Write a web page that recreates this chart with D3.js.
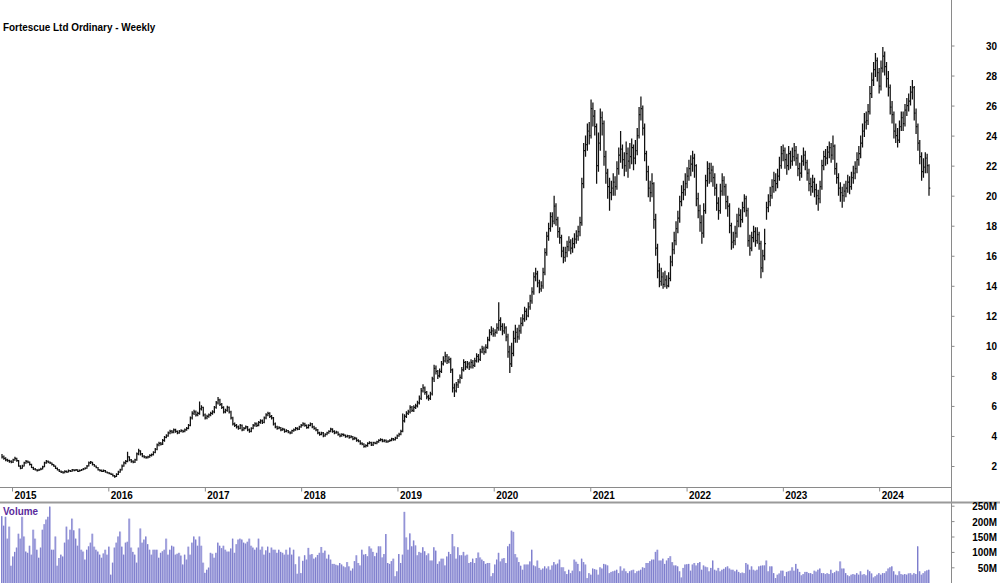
<!DOCTYPE html>
<html><head><meta charset="utf-8">
<script src="https://cdn.jsdelivr.net/npm/d3@7"></script>
<style>
body{margin:0;background:#fff}
svg{display:block}
text{font-family:"Liberation Sans",Arial,sans-serif;font-weight:bold;font-size:11px;fill:#000}
</style>
</head><body>
<svg id="c" width="1000" height="583"></svg>
<script>
const title = "Fortescue Ltd Ordinary - Weekly";
const volumeLabel = "Volume";
const firstWeek = "2014-11-24";
const yearTicks = [2015,2016,2017,2018,2019,2020,2021,2022,2023,2024];
const priceTicks = [2,4,6,8,10,12,14,16,18,20,22,24,26,28,30];
const volumeTicks = [50,100,150,200,250];

const closes = [
2.6,2.5,2.4,2.35,2.3,2.25,2.4,2.5,2.35,2.0,
1.85,2.0,2.2,2.3,2.25,2.1,1.9,1.8,1.75,1.7,
1.75,1.8,1.95,2.2,2.3,2.25,2.2,2.1,2.0,1.85,
1.75,1.65,1.6,1.55,1.65,1.6,1.7,1.65,1.75,1.7,
1.75,1.65,1.7,1.75,1.8,1.85,2.0,2.2,2.25,2.1,
2.0,1.9,1.75,1.7,1.65,1.7,1.6,1.55,1.5,1.45,
1.35,1.3,1.45,1.6,1.75,2.0,2.2,2.3,2.6,2.4,
2.3,2.25,2.4,2.8,3.0,2.8,2.65,2.6,2.55,2.6,
2.7,2.75,2.9,3.1,3.4,3.5,3.45,3.7,3.9,4.0,
4.2,4.3,4.25,4.4,4.3,4.2,4.3,4.35,4.3,4.4,
4.5,4.7,5.2,5.5,5.6,5.4,5.5,5.8,5.9,5.4,
5.2,5.3,5.4,5.5,5.6,5.9,6.2,6.4,6.1,5.9,
5.6,5.7,5.9,5.6,5.2,4.8,4.7,4.6,4.5,4.7,
4.4,4.5,4.6,4.4,4.3,4.5,4.7,4.8,4.7,4.9,
5.0,4.9,5.2,5.4,5.5,5.3,5.2,4.8,4.6,4.5,
4.55,4.4,4.45,4.3,4.35,4.25,4.2,4.35,4.4,4.5,
4.45,4.6,4.7,4.8,4.7,4.55,4.7,4.8,4.6,4.5,
4.4,4.2,4.1,4.2,4.0,4.1,4.2,4.3,4.45,4.3,
4.2,4.25,4.1,4.0,4.1,4.05,3.95,4.0,3.9,3.95,
3.8,3.85,3.7,3.65,3.5,3.45,3.3,3.35,3.5,3.55,
3.4,3.55,3.5,3.6,3.7,3.75,3.65,3.7,3.6,3.65,
3.7,3.8,3.75,3.85,4.0,4.1,4.3,5.0,5.3,5.5,
5.6,5.9,5.7,5.9,6.0,6.2,6.5,7.0,7.2,6.9,
6.6,6.5,6.8,7.8,8.5,8.3,8.0,8.3,8.8,9.0,
9.3,9.0,9.1,8.4,7.2,7.0,7.4,7.6,7.9,8.4,
8.9,8.6,8.8,8.6,8.9,8.7,9.0,9.3,9.1,9.6,
9.8,9.6,9.9,10.4,10.9,11.0,10.8,10.9,11.2,11.7,
11.3,11.0,11.2,10.6,9.6,8.8,9.5,10.5,10.9,10.6,
11.0,11.5,11.8,12.3,12.0,12.6,13.0,13.6,14.6,14.8,
14.2,13.8,14.0,14.9,16.2,17.3,17.8,18.6,18.3,19.3,
18.4,17.6,17.2,16.3,15.9,16.2,16.6,16.9,16.5,16.8,
17.1,17.3,17.6,18.2,20.8,23.0,23.4,24.3,24.0,25.8,
25.3,24.6,22.0,23.5,25.2,24.8,22.6,21.5,20.6,20.2,
20.5,20.9,20.6,21.8,22.7,23.1,22.4,22.0,22.8,22.3,
22.6,23.2,22.5,23.0,24.0,25.4,25.8,24.5,22.8,21.6,
20.5,20.2,20.8,18.4,16.5,15.0,14.3,14.6,14.1,14.4,
14.0,14.5,15.6,16.4,17.0,17.8,18.5,19.6,20.2,20.4,
20.8,21.3,21.8,22.1,22.5,22.0,19.8,19.0,18.2,17.5,
19.0,21.0,21.8,21.5,21.7,21.2,20.5,19.5,19.0,20.3,
21.0,20.6,19.6,19.3,18.0,16.9,17.0,17.5,18.3,18.7,
18.4,19.2,19.8,19.0,17.0,16.5,17.2,17.6,17.0,17.4,
16.8,15.2,16.0,16.8,19.2,19.6,20.0,20.6,21.0,20.8,
21.3,22.0,22.8,23.0,22.4,22.0,22.8,22.3,22.6,23.0,
22.5,21.8,21.5,22.3,22.7,22.2,21.5,20.8,20.6,20.9,
20.4,20.0,19.8,20.6,22.0,22.6,22.5,22.9,23.2,22.7,
23.3,21.8,21.2,20.5,20.2,20.0,20.3,20.5,20.9,20.6,
21.2,21.5,21.8,22.4,22.8,23.5,24.3,24.9,25.0,25.6,
26.8,27.7,28.4,29.0,28.2,27.3,28.5,29.3,28.6,27.8,
27.2,25.9,25.4,24.3,24.0,23.7,24.6,25.2,24.8,25.7,
26.0,26.3,26.9,27.2,25.5,24.6,23.5,22.6,21.6,21.9,
22.5,22.0,20.5];

const highs = [
2.8,2.7,2.58,2.48,2.42,2.38,2.48,2.62,2.55,2.4,
2.05,2.08,2.28,2.4,2.36,2.3,2.15,1.95,1.86,1.8,
1.82,1.88,2.02,2.28,2.4,2.36,2.3,2.24,2.14,2.04,
1.9,1.8,1.7,1.66,1.72,1.7,1.76,1.74,1.8,1.8,
1.8,1.78,1.76,1.8,1.86,1.92,2.06,2.3,2.34,2.28,
2.14,2.04,1.94,1.8,1.76,1.76,1.74,1.64,1.6,1.55,
1.5,1.4,1.52,1.68,1.82,2.1,2.3,2.4,2.95,2.65,
2.46,2.38,2.48,2.9,3.15,3.05,2.86,2.72,2.66,2.68,
2.78,2.84,2.98,3.2,3.5,3.62,3.6,3.8,4.0,4.12,
4.3,4.42,4.4,4.5,4.48,4.36,4.4,4.45,4.42,4.5,
4.6,4.8,5.3,5.65,5.75,5.7,5.62,6.3,6.05,5.95,
5.5,5.42,5.5,5.62,5.72,6.0,6.32,6.6,6.48,6.2,
5.98,5.82,6.02,5.96,5.68,5.28,4.9,4.8,4.7,4.8,
4.76,4.6,4.7,4.66,4.5,4.58,4.8,4.92,4.9,5.0,
5.12,5.1,5.3,5.52,5.62,5.58,5.4,5.26,4.9,4.68,
4.64,4.6,4.54,4.5,4.44,4.4,4.32,4.42,4.5,4.6,
4.58,4.68,4.8,4.92,4.88,4.76,4.78,4.9,4.86,4.68,
4.58,4.46,4.28,4.28,4.26,4.18,4.28,4.38,4.55,4.52,
4.38,4.34,4.3,4.16,4.18,4.16,4.1,4.08,4.06,4.04,
4.0,3.94,3.9,3.78,3.72,3.58,3.52,3.44,3.58,3.64,
3.62,3.62,3.62,3.68,3.78,3.84,3.82,3.78,3.76,3.72,
3.78,3.88,3.86,3.94,4.1,4.22,4.42,5.5,5.45,5.65,
5.75,6.05,6.0,6.05,6.15,6.35,6.7,7.2,7.45,7.3,
7.0,6.75,6.95,7.95,8.75,8.7,8.4,8.5,9.0,9.3,
9.6,9.45,9.3,9.2,8.5,7.5,7.6,7.8,8.1,8.6,
9.1,9.0,9.0,8.95,9.1,9.05,9.2,9.5,9.45,9.8,
10.0,9.95,10.1,10.6,11.1,11.3,11.2,11.1,11.5,12.9,
11.9,11.5,11.5,11.3,10.8,10.0,10.2,11.0,11.4,11.2,
11.4,11.9,12.1,12.6,12.5,12.9,13.4,13.9,14.9,15.2,
15.0,14.4,14.3,15.2,16.5,17.6,18.2,18.9,18.9,20.0,
19.5,18.6,17.9,17.4,16.6,16.6,17.0,17.3,17.1,17.2,
17.5,17.7,18.0,18.6,21.2,23.5,24.0,24.8,24.9,26.4,
26.2,25.7,24.8,24.2,25.8,25.6,25.0,23.0,21.8,21.2,
21.0,21.5,21.3,22.3,23.2,24.3,23.4,22.9,23.6,23.2,
23.5,23.8,23.4,23.7,24.5,25.9,26.6,26.0,24.8,23.0,
22.0,21.0,21.5,20.9,18.8,16.8,15.5,15.2,14.9,15.0,
14.7,14.9,16.0,16.9,17.6,18.3,19.0,20.0,20.7,21.0,
21.5,21.9,22.4,22.7,23.0,22.8,22.1,20.2,19.4,18.7,
19.5,21.4,22.3,22.2,22.2,22.0,21.5,20.8,19.9,20.8,
21.5,21.3,20.8,20.0,19.5,18.2,17.6,18.0,18.8,19.2,
19.1,19.6,20.1,20.0,19.2,17.4,17.6,18.0,17.9,17.9,
17.6,17.0,16.4,17.8,19.6,20.1,20.6,21.1,21.6,21.5,
21.8,22.6,23.3,23.4,23.2,22.8,23.3,23.0,23.2,23.5,
23.3,22.8,22.2,22.7,23.2,23.0,22.4,21.8,21.2,21.4,
21.2,20.8,20.4,21.0,22.4,23.0,23.1,23.3,23.6,23.5,
24.0,23.4,22.2,21.5,20.9,20.6,20.8,21.0,21.4,21.3,
21.6,22.0,22.3,22.9,23.3,24.0,24.8,25.5,25.6,26.1,
27.3,28.2,28.9,29.5,29.2,28.5,29.0,29.9,29.6,28.9,
28.3,27.4,26.3,25.6,24.8,24.5,25.0,25.6,25.6,26.1,
26.5,26.8,27.3,27.7,27.3,25.8,24.8,23.7,22.9,22.5,
22.9,22.8,22.1];

const lows = [
2.5,2.42,2.32,2.28,2.22,2.18,2.2,2.35,2.28,1.95,
1.78,1.82,1.96,2.15,2.18,2.04,1.86,1.74,1.7,1.64,
1.66,1.72,1.76,1.92,2.15,2.18,2.14,2.04,1.95,1.8,
1.7,1.6,1.54,1.5,1.52,1.55,1.57,1.6,1.62,1.65,
1.66,1.6,1.62,1.66,1.72,1.76,1.82,1.96,2.14,2.04,
1.95,1.85,1.7,1.64,1.6,1.6,1.55,1.5,1.45,1.4,
1.3,1.22,1.26,1.4,1.55,1.7,1.95,2.12,2.25,2.32,
2.22,2.18,2.2,2.35,2.72,2.7,2.58,2.52,2.48,2.5,
2.55,2.64,2.7,2.85,3.05,3.32,3.36,3.4,3.62,3.84,
3.94,4.12,4.16,4.18,4.22,4.12,4.14,4.24,4.22,4.24,
4.34,4.44,4.64,5.1,5.4,5.3,5.32,5.42,5.7,5.3,
5.1,5.12,5.22,5.32,5.42,5.52,5.82,6.1,6.0,5.8,
5.5,5.52,5.62,5.5,5.1,4.7,4.6,4.5,4.42,4.44,
4.32,4.34,4.44,4.32,4.22,4.24,4.44,4.62,4.6,4.64,
4.82,4.8,4.84,5.12,5.32,5.2,5.1,4.7,4.52,4.42,
4.44,4.32,4.34,4.22,4.24,4.18,4.12,4.14,4.28,4.34,
4.38,4.4,4.54,4.64,4.62,4.48,4.5,4.64,4.52,4.42,
4.32,4.12,4.02,4.04,3.92,3.94,4.04,4.14,4.24,4.22,
4.12,4.14,4.02,3.92,3.94,3.98,3.88,3.9,3.82,3.84,
3.72,3.74,3.62,3.58,3.42,3.38,3.22,3.24,3.28,3.44,
3.34,3.34,3.44,3.44,3.54,3.64,3.58,3.58,3.54,3.54,
3.6,3.64,3.68,3.7,3.8,3.94,4.04,4.25,4.9,5.2,
5.4,5.5,5.6,5.6,5.8,5.9,6.1,6.4,6.9,6.75,
6.45,6.35,6.4,6.7,7.6,8.1,7.8,7.9,8.2,8.7,
8.9,8.8,8.85,8.2,6.9,6.6,6.9,7.2,7.5,7.8,
8.3,8.4,8.5,8.4,8.5,8.5,8.6,8.9,8.9,9.0,
9.5,9.4,9.5,9.8,10.3,10.7,10.6,10.6,10.8,11.0,
11.0,10.7,10.8,10.3,9.2,8.2,8.6,9.3,10.2,10.2,
10.4,10.8,11.3,11.6,11.7,11.9,12.4,12.8,13.4,14.3,
13.9,13.5,13.6,13.8,14.7,16.0,17.0,17.6,17.9,18.1,
18.0,17.2,16.8,15.9,15.5,15.6,15.9,16.3,16.1,16.2,
16.5,16.8,17.0,17.3,18.0,20.5,22.6,23.0,23.4,23.8,
24.6,24.0,20.8,21.6,23.0,24.0,22.0,20.8,19.8,19.0,
19.7,20.0,20.0,20.4,21.4,22.2,21.8,21.3,21.6,21.2,
21.8,22.1,21.7,22.1,22.7,23.8,25.0,24.0,22.3,21.0,
19.9,19.6,19.9,17.8,16.0,14.5,13.9,14.0,13.8,13.9,
13.8,13.9,14.3,15.3,16.1,16.7,17.5,18.2,19.3,19.7,
20.0,20.5,21.0,21.3,21.6,21.2,19.3,18.5,17.6,16.8,
17.2,18.8,20.6,20.8,20.9,20.6,20.0,19.0,18.4,18.8,
20.0,20.0,19.1,18.6,17.5,16.4,16.5,16.7,17.2,17.9,
17.9,18.2,18.9,18.6,16.6,16.0,16.3,16.9,16.6,16.8,
16.4,14.5,14.9,15.7,18.4,18.9,19.3,19.8,20.2,20.3,
20.5,21.0,21.8,22.3,21.8,21.4,21.7,21.8,22.0,22.3,
22.0,21.3,21.0,21.2,22.0,21.7,21.0,20.3,20.0,20.2,
19.9,19.4,19.0,19.5,20.4,21.7,22.0,22.1,22.5,22.2,
22.4,21.4,20.8,20.0,19.6,19.2,19.6,19.9,20.2,20.1,
20.4,20.8,21.1,21.5,22.0,22.5,23.2,23.9,24.4,24.7,
25.4,26.5,27.3,27.9,27.6,26.8,27.0,28.2,28.0,27.2,
26.6,25.4,24.8,23.8,23.5,23.2,23.5,24.3,24.3,24.6,
25.3,25.6,26.0,26.4,25.0,24.1,23.0,22.1,21.0,21.2,
21.5,21.5,20.0];

// weekly volume, millions of shares
const volumes = [
216,185,214,143,182,55,85,100,114,159,143,214,150,101,97,120,
91,172,143,107,81,114,172,190,205,214,247,107,107,150,55,80,
91,85,130,182,140,172,208,170,143,120,176,107,101,75,107,118,
130,159,117,107,101,91,81,95,107,91,117,26,65,114,130,150,
166,117,91,130,133,208,114,100,91,65,114,176,130,140,150,125,
107,91,107,107,107,81,97,102,107,143,91,107,120,117,91,94,
97,88,59,91,75,117,91,130,150,140,120,150,120,65,32,42,
49,97,94,81,97,130,120,112,120,107,101,101,111,143,97,125,
140,143,140,130,127,133,143,120,114,107,114,143,107,117,91,105,
117,97,114,107,107,97,107,100,97,91,107,91,114,91,107,60,
29,85,
31,71,89,75,113,91,93,78,82,90,
97,116,97,104,78,91,75,61,61,58,
56,64,59,53,50,67,53,39,46,70,
89,64,56,107,91,93,86,118,111,100,
86,97,118,118,82,93,158,64,61,70,
78,21,37,93,64,91,230,147,107,160,
118,137,121,89,100,97,115,102,89,95,
72,72,115,104,61,69,78,78,56,85,
100,93,158,118,78,115,89,89,100,88,
91,64,67,78,64,80,98,82,75,70,
61,64,64,21,31,59,75,97,69,78,
80,64,118,126,169,165,93,82,67,55,
42,59,59,59,69,107,56,53,72,48,
42,46,53,46,53,42,56,67,59,62,
75,50,50,37,28,42,31,39,75,68,
61,37,78,67,59,15,31,26,46,44,
42,26,50,46,61,59,56,31,35,37,
39,42,31,53,39,46,37,31,37,40,
42,31,37,39,42,50,48,64,64,70,
75,75,100,107,72,72,78,61,72,80,
86,67,56,56,53,37,17,48,59,60,
61,39,59,64,56,64,67,42,56,52,
50,37,48,72,42,39,48,37,42,45,
50,53,46,42,42,37,42,35,31,33,
31,64,59,42,53,42,39,42,53,55,
56,56,72,37,53,53,31,15,26,30,
39,39,21,35,37,39,50,39,61,45,
35,24,28,35,35,31,31,28,39,36,
42,46,31,31,28,31,28,42,31,34,
39,37,69,46,46,31,24,21,26,28,
26,31,26,37,26,28,24,42,37,30,
17,21,26,31,26,31,31,37,46,50,
53,37,26,24,37,28,26,28,26,30,
31,26,31,28,118,37,26,31,37,40,42];

const svg = d3.select("#c");
const parse = d3.timeParse("%Y-%m-%d");
const start = parse(firstWeek);
const dates = closes.map((c, i) => d3.timeDay.offset(start, i * 7));
const bars = dates.map((d, i) => ({d, h: highs[i], l: lows[i], c: closes[i], v: volumes[i]}));

const x = d3.scaleTime().domain([dates[0], dates[dates.length - 1]]).range([2, 929]);
const y = d3.scaleLinear().domain([2, 30]).range([466, 45.5]);
const yv = d3.scaleLinear().domain([0, 250]).range([582.7, 505.7]);

function squeeze(sel, f) {
  sel.each(function () {
    const w = this.getComputedTextLength();
    d3.select(this).attr("textLength", w * f).attr("lengthAdjust", "spacingAndGlyphs");
  });
}

const axisColor = "#8a8a8a";
const fs = 11, sq = 0.9;

svg.append("clipPath").attr("id", "pclip").append("rect").attr("x", 0).attr("y", 0).attr("width", 951).attr("height", 487);
svg.append("clipPath").attr("id", "vclip").append("rect").attr("x", 0).attr("y", 504).attr("width", 951).attr("height", 79);

// volume bars
const gv = svg.append("g").attr("clip-path", "url(#vclip)");
gv.selectAll("rect").data(bars).join("rect")
  .attr("x", b => x(b.d) - 0.9)
  .attr("width", 1.85)
  .attr("y", b => yv(b.v))
  .attr("height", b => yv(0) - yv(b.v) + 1)
  .attr("fill", "#c2c2ea");
gv.selectAll("line").data(bars).join("line")
  .attr("x1", b => x(b.d) - 0.4).attr("x2", b => x(b.d) - 0.4)
  .attr("y1", b => yv(b.v)).attr("y2", 584)
  .attr("stroke", "#7c7ccc").attr("stroke-width", 1);

// price bars (high-low with close tick)
const gp = svg.append("g").attr("clip-path", "url(#pclip)");
gp.selectAll("path").data(bars).join("path")
  .attr("d", b => {
    const xx = x(b.d);
    return `M${xx},${y(b.h)}V${y(b.l)}M${xx},${y(b.c)}H${xx + 1.3}`;
  })
  .attr("fill", "none")
  .attr("stroke", "#111")
  .attr("stroke-width", 1.25);

// frame lines
svg.append("line").attr("x1", 951.5).attr("x2", 951.5).attr("y1", 0).attr("y2", 583).attr("stroke", axisColor);
svg.append("line").attr("x1", 0).attr("x2", 951.5).attr("y1", 487.5).attr("y2", 487.5).attr("stroke", axisColor);
svg.append("line").attr("x1", 0).attr("x2", 1000).attr("y1", 502.5).attr("y2", 502.5).attr("stroke", "#9a9a9a").attr("stroke-width", 2);

function styleTicks(g) {
  g.selectAll(".tick line").attr("stroke", axisColor);
  g.selectAll(".tick text").attr("font-size", fs).attr("font-family", null)
    .attr("font-weight", "bold").attr("fill", "#000");
}

// price axis
const pa = svg.append("g").attr("transform", "translate(951.5,0)")
  .call(d3.axisRight(y).tickValues(priceTicks).tickSize(3).tickFormat(d3.format("d")));
pa.select(".domain").remove();
styleTicks(pa);
pa.selectAll(".tick text").attr("x", 45.5).attr("text-anchor", "end").attr("dy", "0.36em");
squeeze(pa.selectAll(".tick text"), sq);

// volume axis
const va = svg.append("g").attr("transform", "translate(951.5,0)")
  .call(d3.axisRight(yv).tickValues(volumeTicks).tickSize(3).tickFormat(d => d + "M"));
va.select(".domain").remove();
styleTicks(va);
va.selectAll(".tick text").attr("x", 45.5).attr("text-anchor", "end").attr("dy", "0.36em");
squeeze(va.selectAll(".tick text"), sq);

// year axis
const yearDates = yearTicks.map(yr => new Date(yr, 0, 1));
const xa = svg.append("g").attr("transform", "translate(0,487.5)")
  .call(d3.axisBottom(x).tickValues(yearDates).tickSize(4).tickFormat(d3.timeFormat("%Y")));
xa.select(".domain").remove();
styleTicks(xa);
xa.selectAll(".tick text").attr("x", 2).attr("y", 11.5).attr("dy", 0).attr("text-anchor", "start");
squeeze(xa.selectAll(".tick text"), sq);

// title and volume label
const t = svg.append("text").attr("x", 3).attr("y", 31).text(title);
squeeze(t, sq);
const vl = svg.append("text").attr("x", 3).attr("y", 515).style("fill", "#5a2a9c").text(volumeLabel);
squeeze(vl, sq);
</script>
</body></html>
